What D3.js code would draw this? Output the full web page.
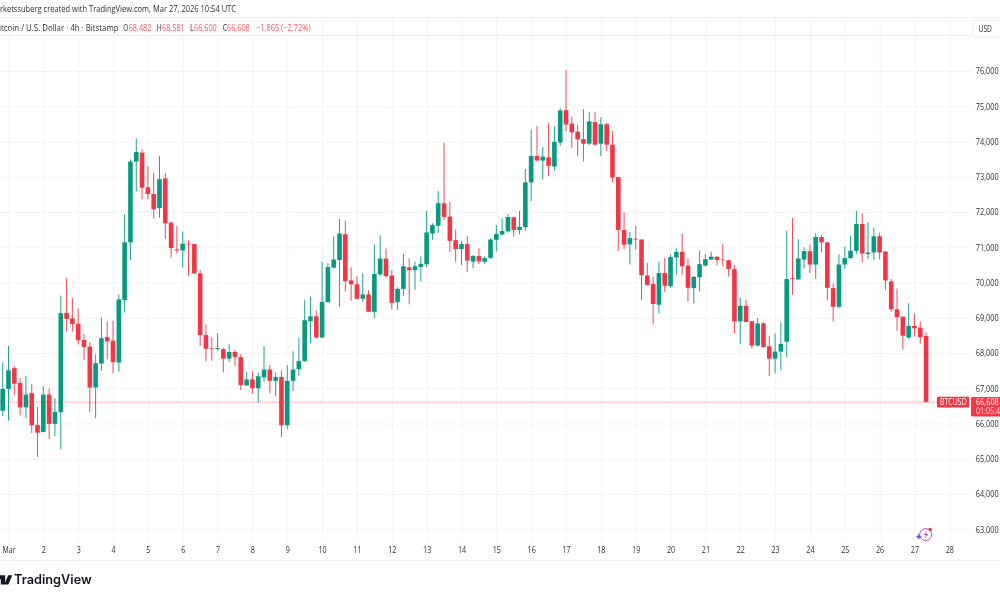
<!DOCTYPE html>
<html>
<head>
<meta charset="utf-8">
<script src="https://cdn.jsdelivr.net/npm/d3@7"></script>
<style>
  html, body { margin: 0; padding: 0; background: #fff; overflow: hidden; }
  svg { display: block; font-family: "Open Sans", sans-serif; filter: blur(0.28px); }
</style>
</head>
<body>
<svg id="chart" width="1000" height="600"></svg>
<script>
// BTCUSD 4h candles, first one is the evening of Feb 28
var opens = [
  66360,66980,67570,67150,66460,66860,65960,65760,66820,65990,
  66320,69140,68980,68830,68370,68180,67020,67700,68450,68350,
  67730,69500,71140,73430,73680,72700,72510,72110,72950,71700,
  70940,70910,71100,71090,70260,68510,68130,68110,68110,67840,
  68030,67880,67080,67250,67000,67310,67530,67210,67320,65950,
  67210,67540,67770,68900,69040,68440,69440,70420,70640,71370,
  70060,69950,69540,69660,69170,70230,70680,70200,69440,69820,
  70430,70350,70440,70520,71390,71610,72250,71870,71200,70950,
  71090,70590,70750,70590,70700,71210,71360,71450,71850,71490,
  71570,72840,73590,73460,73550,73290,73970,74890,74510,74280,
  74070,73940,74550,73940,74490,73910,72990,71490,71080,71240,
  71220,70200,69960,69370,70270,69900,70710,70870,70480,69840,
  70150,70480,70650,70730,70650,70630,70380,68900,69340,68900,
  68210,68840,68190,67840,68040,68320,70130,70090,70650,70890,
  70510,71290,71140,69840,69310,70510,70690,70900,71660,70810,
  70850,71310,70880,70030,69240,69030,68440,68770,68720,68482
];
var highs = [
  67740,68200,67630,67290,67350,67120,66470,67060,66990,66710,
  69630,70120,69560,69260,68540,68310,67960,69000,68880,68910,
  69660,71940,73490,74090,73780,73300,73110,73590,73110,71720,
  71600,71440,71200,71100,70360,68810,68440,68560,68140,68250,
  68090,67970,67470,67490,67450,68200,67660,67450,67510,67660,
  68050,68440,69510,69600,69200,70590,70550,71310,71800,71750,
  70430,70180,70260,69780,71080,71340,70960,70350,69860,70810,
  70680,70590,70740,72030,71680,72600,73960,72290,71500,71180,
  71310,70780,70970,70750,71260,71630,71820,71950,71870,72030,
  73220,74330,74440,73840,74530,74440,74940,76030,74700,74470,
  74920,74830,74830,74690,74530,74300,72990,71990,71430,71610,
  71220,70560,70160,70590,70700,70790,70970,71380,70680,70180,
  70910,70810,70870,70740,71100,70640,70500,69570,69510,68910,
  68990,68870,68480,68550,68870,71470,71830,71230,71000,71070,
  71400,71350,71150,69970,70800,71020,71320,72040,71950,71720,
  71560,71410,70880,70100,69830,69030,69410,69110,68890,68581
];
var lows = [
  66210,66080,66810,66230,66150,65730,65050,65760,65560,65640,
  65260,68610,68610,68240,67800,66330,66150,67490,67820,67420,
  67470,69150,70630,72580,72360,72360,71820,71840,71230,70700,
  70820,70430,70180,70250,68190,67760,67780,68070,67450,67740,
  67630,66950,67070,66850,66570,67190,66850,66770,65620,65840,
  66920,67350,67750,68280,68410,68420,69440,70400,69310,69750,
  69480,69510,69440,69160,68990,70190,70140,69250,69220,69610,
  69380,69790,70030,70420,71210,71410,71780,70870,70590,70500,
  70300,70410,70520,70520,70670,70880,71340,71420,71300,71360,
  71470,72310,73450,72920,73020,73180,73870,74290,73820,73580,
  73430,73890,73890,73590,73740,72840,70900,70950,70510,70930,
  69510,69920,68810,69120,69740,69850,70220,70220,69470,69400,
  69750,70450,70640,70480,70460,70170,68560,68250,68870,68130,
  68190,68150,67340,67420,67510,67890,69650,70070,70400,70270,
  70100,70850,69500,68890,69270,70390,70680,70810,70570,70670,
  70640,70660,69790,69170,68630,68110,68400,68470,68260,66600
];
var closes = [
  66980,67510,67130,66460,66820,65950,65740,66820,65990,66330,
  69130,68970,68820,68360,68170,67020,67710,68420,68330,67740,
  69520,71140,73430,73700,72690,72510,72080,72930,71680,70980,
  70910,71100,71080,70260,68510,68120,68110,68140,67840,68030,
  67890,67090,67250,67000,67340,67530,67210,67320,65950,67210,
  67530,67770,68930,69040,68440,69450,70440,70650,71390,70040,
  69950,69540,69660,69170,70240,70680,70180,69420,69820,70460,
  70350,70460,70530,71420,71630,72250,71860,71180,70950,71090,
  70620,70750,70600,70690,71220,71380,71460,71860,71490,71580,
  72840,73590,73460,73570,73310,73990,74880,74480,74260,74060,
  73940,74570,73910,74490,73910,72980,71490,71070,71260,71220,
  70210,69930,69390,70270,69910,70720,70870,70460,69850,70160,
  70520,70660,70730,70640,70630,70380,68900,69340,68880,68210,
  68840,68170,67840,68040,68260,70100,70110,70680,70890,70510,
  71290,71140,69850,69310,70510,70690,70900,71660,70820,70850,
  71310,70850,70060,69240,69020,68490,68770,68700,68450,66608
];
var priceTicks = [63000,64000,65000,66000,67000,68000,69000,70000,71000,72000,73000,74000,75000,76000];
var dayLabels = ['Mar','2','3','4','5','6','7','8','9','10','11','12','13','14','15','16','17','18','19','20','21','22','23','24','25','26','27','28'];
var lastPrice = 66608;

var UP = '#089981', DOWN = '#f23645', GRID = '#f3f4f6', BORDER = '#eeeff2', TEXT = '#2a2e39';
var PRICE_W = 22.8;   //width of a "66,608" style label
var FONT = 8.8;

var svg = d3.select('#chart');

//One candle is 1/6 of a day, bar 1 is Mar 1 00:00.
var x = d3.scaleLinear().domain([1, 163]).range([8.5, 949.3]);
var y = d3.scaleLinear().domain([63000, 76000]).range([529.25, 71]);
var dayBars = dayLabels.map((d, i) => 1 + i * 6);

//Grid comes from the axes, ticks stretched over the pane.
var xAxis = d3.axisBottom(x).tickValues(dayBars)
    .tickFormat((d, i) => dayLabels[i]).tickSize(-524.5).tickPadding(5);
var yAxis = d3.axisRight(y).tickValues(priceTicks)
    .tickFormat(d3.format(',')).tickSize(972).tickPadding(3.8);

var gx = svg.append('g').attr('transform', 'translate(0,542)').call(xAxis);
var gy = svg.append('g').call(yAxis);
[gx, gy].forEach(g => {
    g.select('.domain').remove();
    g.selectAll('.tick line').attr('stroke', GRID).attr('stroke-width', 1);
    g.selectAll('.tick text').attr('fill', TEXT).attr('font-size', FONT)
        .attr('font-family', '"Open Sans", sans-serif').attr('lengthAdjust', 'spacingAndGlyphs');
});
gy.selectAll('.tick text').attr('textLength', PRICE_W);
gx.selectAll('.tick text').attr('textLength', (d, i) => i === 0 ? 13 : dayLabels[i].length * 4.1);

//Frame lines
[[0, 1000, 17.5, 17.5], [0, 972, 35.5, 35.5], [0, 1000, 560.5, 560.5]].forEach(l => {
    svg.append('line').attr('x1', l[0]).attr('x2', l[1]).attr('y1', l[2]).attr('y2', l[3])
        .attr('stroke', BORDER);
});

//Last price line
svg.append('line')
    .attr('x1', 0).attr('x2', 937)
    .attr('y1', y(lastPrice)).attr('y2', y(lastPrice))
    .attr('stroke', DOWN).attr('stroke-opacity', 0.55)
    .attr('stroke-dasharray', '1 1');

//Candles
var candles = svg.append('g').selectAll('g')
    .data(d3.range(opens.length))
    .join('g')
    .attr('fill', i => closes[i] >= opens[i] ? UP : DOWN)
    .attr('stroke', i => closes[i] >= opens[i] ? UP : DOWN);

candles.append('line')
    .attr('x1', i => x(i)).attr('x2', i => x(i))
    .attr('y1', i => y(highs[i])).attr('y2', i => y(lows[i]))
    .attr('stroke-width', 0.9);

candles.append('rect')
    .attr('stroke', 'none')
    .attr('x', i => x(i) - 2.3)
    .attr('width', 4.6)
    .attr('y', i => y(Math.max(opens[i], closes[i])))
    .attr('height', i => Math.max(0.7, Math.abs(y(opens[i]) - y(closes[i]))));

//Header
svg.append('text').attr('x', -11).attr('y', 12.4)
    .attr('textLength', 247).attr('lengthAdjust', 'spacingAndGlyphs')
    .attr('font-size', FONT).attr('fill', TEXT)
    .text('Marketssuberg created with TradingView.com, Mar 27, 2026 10:54 UTC');

svg.append('rect').attr('x', 0).attr('y', 18).attr('width', 313).attr('height', 17).attr('fill', '#fff');

//x, text, colour, width
var legendBits = [
    [-6, 'Bitcoin / U.S. Dollar · 4h · Bitstamp', TEXT, 124.5],
    [123.2, 'O', TEXT, 5], [128.7, '68,482', DOWN, PRICE_W],
    [156.7, 'H', TEXT, 5], [162, '68,581', DOWN, PRICE_W],
    [190, 'L', TEXT, 3.8], [194, '66,600', DOWN, PRICE_W],
    [222.7, 'C', TEXT, 4.5], [227, '66,608', DOWN, PRICE_W],
    [256, '−1,865 (−2.72%)', DOWN, 54.6]
];
svg.append('g').selectAll('text').data(legendBits).join('text')
    .attr('x', d => d[0]).attr('y', 30.7)
    .attr('font-size', FONT)
    .attr('fill', d => d[2])
    .attr('fill-opacity', d => d[2] === DOWN ? 0.85 : 1)
    .attr('textLength', d => d[3]).attr('lengthAdjust', 'spacingAndGlyphs')
    .text(d => d[1]);

//USD box
svg.append('rect').attr('x', 972.5).attr('y', 20.5).attr('width', 40).attr('height', 16.5).attr('rx', 2.5)
    .attr('fill', '#fff').attr('stroke', '#eceef2');
svg.append('text').attr('x', 978.5).attr('y', 32.4).attr('font-size', FONT)
    .attr('textLength', 13.5).attr('lengthAdjust', 'spacingAndGlyphs').attr('fill', TEXT).text('USD');

//Labels for the last price
svg.append('rect').attr('x', 937).attr('y', 396.8).attr('width', 32.2).attr('height', 10.8).attr('rx', 1)
    .attr('fill', DOWN);
svg.append('text').attr('x', 940).attr('y', 405.4).attr('font-size', FONT)
    .attr('textLength', 26.7).attr('lengthAdjust', 'spacingAndGlyphs').attr('fill', '#fff').text('BTCUSD');
svg.append('rect').attr('x', 971).attr('y', 397).attr('width', 40).attr('height', 19.5).attr('rx', 1.5)
    .attr('fill', DOWN);
svg.append('text').attr('x', 976).attr('y', 405.2).attr('font-size', FONT)
    .attr('textLength', PRICE_W).attr('lengthAdjust', 'spacingAndGlyphs').attr('fill', '#fff').text('66,608');
svg.append('text').attr('x', 976).attr('y', 414.2).attr('font-size', FONT)
    .attr('textLength', 24).attr('lengthAdjust', 'spacingAndGlyphs').attr('fill', '#fff').attr('fill-opacity', 0.85).text('01:05:4');

//Small flash badge near the time axis
var badge = svg.append('g');
badge.append('circle').attr('cx', 925.7).attr('cy', 534.6).attr('r', 6)
    .attr('fill', 'none').attr('stroke', '#b84fd1').attr('stroke-width', 1);
badge.append('path').attr('d', 'M927.2 530.8l-3.2 4.2h2.2l-1.4 3.5 3.4-4.6h-2.2z').attr('fill', '#a43cc4');
badge.append('circle').attr('cx', 930.2).attr('cy', 529.4).attr('r', 1.7).attr('fill', '#f23645');
badge.append('path').attr('d', 'M918.7 533.8l1 2 2 1-2 1-1 2-1-2-2-1 2-1z').attr('fill', '#6b4be8');

//Logo
svg.append('path').attr('d', 'M-3 575.3h8.2v9.1h-4.4v-5.2h-3.8z M8.2 575.3h4.1l-3.9 9.1h-4.1z').attr('fill', '#131722');
svg.append('text').attr('x', 14).attr('y', 584.4).attr('font-size', 12.6)
    .attr('font-family', 'Inter, sans-serif').attr('font-weight', 600)
    .attr('textLength', 77.7).attr('lengthAdjust', 'spacingAndGlyphs')
    .attr('fill', '#131722').text('TradingView');
</script>
</body>
</html>
